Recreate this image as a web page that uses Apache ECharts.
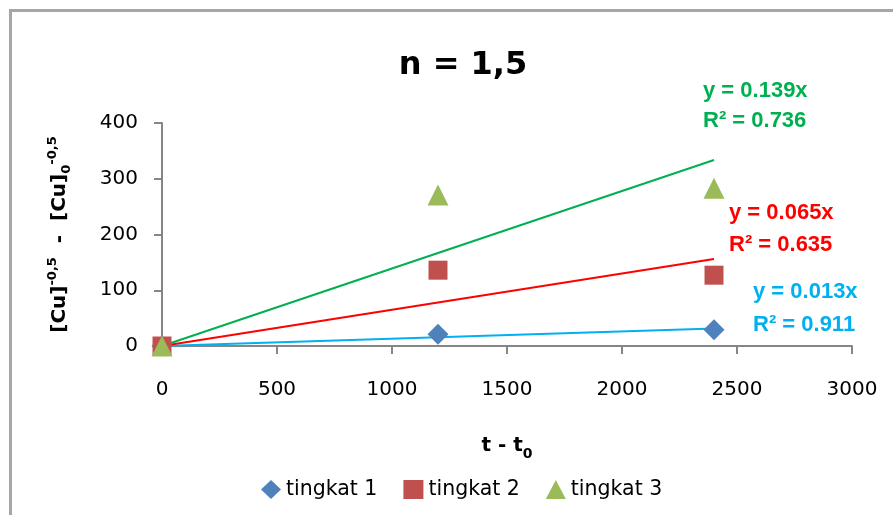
<!DOCTYPE html>
<html>
<head>
<meta charset="utf-8">
<script src="https://cdn.jsdelivr.net/npm/echarts@6/dist/echarts.min.js"></script>
<style>html,body{margin:0;padding:0;background:#fff;}#c{width:893px;height:515px;}</style>
</head>
<body>
<div id="c"></div>
<script>
// Data
var seriesNames = ['tingkat 1', 'tingkat 2', 'tingkat 3'];
var xValues = [0, 1200, 2400];
var tingkat1 = [0, 21, 29];
var tingkat2 = [0, 136, 127];
var tingkat3 = [0, 271, 283];
var slopes = [0.013, 0.065, 0.139];
var rSquared = ['0.911', '0.635', '0.736'];
var trendEndX = 2400;
var xTicks = [0, 500, 1000, 1500, 2000, 2500, 3000];
var yTicks = [0, 100, 200, 300, 400];

var markerColors = ['#4F81BD', '#C0504D', '#9BBB59'];
var trendColors = ['#00B0F0', '#FF0000', '#00B050'];
var symbols = ['diamond', 'rect', 'triangle'];
var symbolSizes = [21, 19, 21];
var allY = [tingkat1, tingkat2, tingkat3];

var chart = echarts.init(document.getElementById('c'), null, {renderer: 'canvas'});

var series = [];
for (var i = 0; i < 3; i++) {
  series.push({
    name: seriesNames[i] + ' trend',
    type: 'line',
    data: [[0, 0], [trendEndX, slopes[i] * trendEndX]],
    showSymbol: false,
    symbol: 'none',
    lineStyle: {color: trendColors[i], width: 2},
    silent: true,
    z: 2
  });
}
for (var j = 0; j < 3; j++) {
  series.push({
    name: seriesNames[j],
    type: 'scatter',
    data: xValues.map(function (x, k) { return [x, allY[j][k]]; }),
    symbol: symbols[j],
    symbolSize: symbolSizes[j],
    itemStyle: {color: markerColors[j], opacity: 1},
    z: 3 + j
  });
}

// equation labels (text positions)
var eqPos = [[753, 294, 327], [729, 215, 247], [703, 93, 123]];
var graphics = [
  {type: 'line', shape: {x1: 10.5, y1: 9, x2: 10.5, y2: 515}, style: {stroke: '#A6A6A6', lineWidth: 3}, z: 100},
  {type: 'line', shape: {x1: 9, y1: 10.5, x2: 893, y2: 10.5}, style: {stroke: '#A6A6A6', lineWidth: 3}, z: 100}
];
for (var m = 0; m < 3; m++) {
  graphics.push({
    type: 'text', left: eqPos[m][0], top: eqPos[m][1] - 13,
    style: {text: 'y = ' + slopes[m] + 'x', fill: trendColors[m], font: 'bold 22px "Liberation Sans"'}
  });
  graphics.push({
    type: 'text', left: eqPos[m][0], top: eqPos[m][2] - 13,
    style: {text: 'R² = ' + rSquared[m], fill: trendColors[m], font: 'bold 22px "Liberation Sans"'}
  });
}

function plain(v) { return String(v); }

var option = {
  backgroundColor: '#ffffff',
  animation: false,
  title: {
    text: 'n = 1,5',
    left: 458,
    textAlign: 'center',
    top: 45,
    textStyle: {fontFamily: 'DejaVu Sans', fontWeight: 'bold', fontSize: 32, color: '#000'}
  },
  legend: {
    data: seriesNames,
    left: 256,
    top: 474,
    itemWidth: 20,
    itemHeight: 19,
    itemGap: 26,
    textStyle: {fontFamily: 'DejaVu Sans', fontSize: 20.5, color: '#000', padding: [0, 0, 0, 0]}
  },
  grid: {left: 162, right: 41, top: 123, bottom: 169, containLabel: false},
  xAxis: {
    type: 'value',
    min: 0, max: 3000, interval: 500,
    name: '{b|t - t}{s|0}',
    nameLocation: 'middle',
    nameGap: 85,
    nameTextStyle: {
      rich: {
        b: {fontFamily: 'DejaVu Sans', fontWeight: 'bold', fontSize: 20, color: '#000', lineHeight: 30, verticalAlign: 'middle'},
        s: {fontFamily: 'DejaVu Sans', fontWeight: 'bold', fontSize: 14, color: '#000', lineHeight: 30, verticalAlign: 'bottom', padding: [14, 0, 0, 0]}
      }
    },
    axisLine: {show: true, onZero: true, lineStyle: {color: '#868686', width: 2}},
    axisTick: {show: true, inside: false, length: 8, lineStyle: {color: '#868686', width: 2}},
    axisLabel: {margin: 34, fontFamily: 'DejaVu Sans', fontSize: 20, color: '#000', formatter: plain},
    splitLine: {show: false}
  },
  yAxis: {
    type: 'value',
    min: 0, max: 400, interval: 100,
    name: '{b|[Cu]}{p|-0,5}{b|  -  [Cu]}{s|0}{p|-0,5}',
    nameLocation: 'middle',
    nameRotate: 90,
    nameGap: 87,
    nameTextStyle: {
      rich: {
        b: {fontFamily: 'DejaVu Sans', fontWeight: 'bold', fontSize: 20, color: '#000', lineHeight: 30},
        p: {fontFamily: 'DejaVu Sans', fontWeight: 'bold', fontSize: 13, color: '#000', lineHeight: 30, padding: [0, 0, 14, 0]},
        s: {fontFamily: 'DejaVu Sans', fontWeight: 'bold', fontSize: 13, color: '#000', lineHeight: 30, padding: [14, 0, 0, 0]}
      }
    },
    axisLine: {show: true, lineStyle: {color: '#868686', width: 2}},
    axisTick: {show: true, inside: false, length: 8, lineStyle: {color: '#868686', width: 2}},
    axisLabel: {margin: 24, fontFamily: 'DejaVu Sans', fontSize: 20, color: '#000', formatter: plain},
    splitLine: {show: false}
  },
  series: series,
  graphic: graphics
};
chart.setOption(option);
</script>
</body>
</html>
